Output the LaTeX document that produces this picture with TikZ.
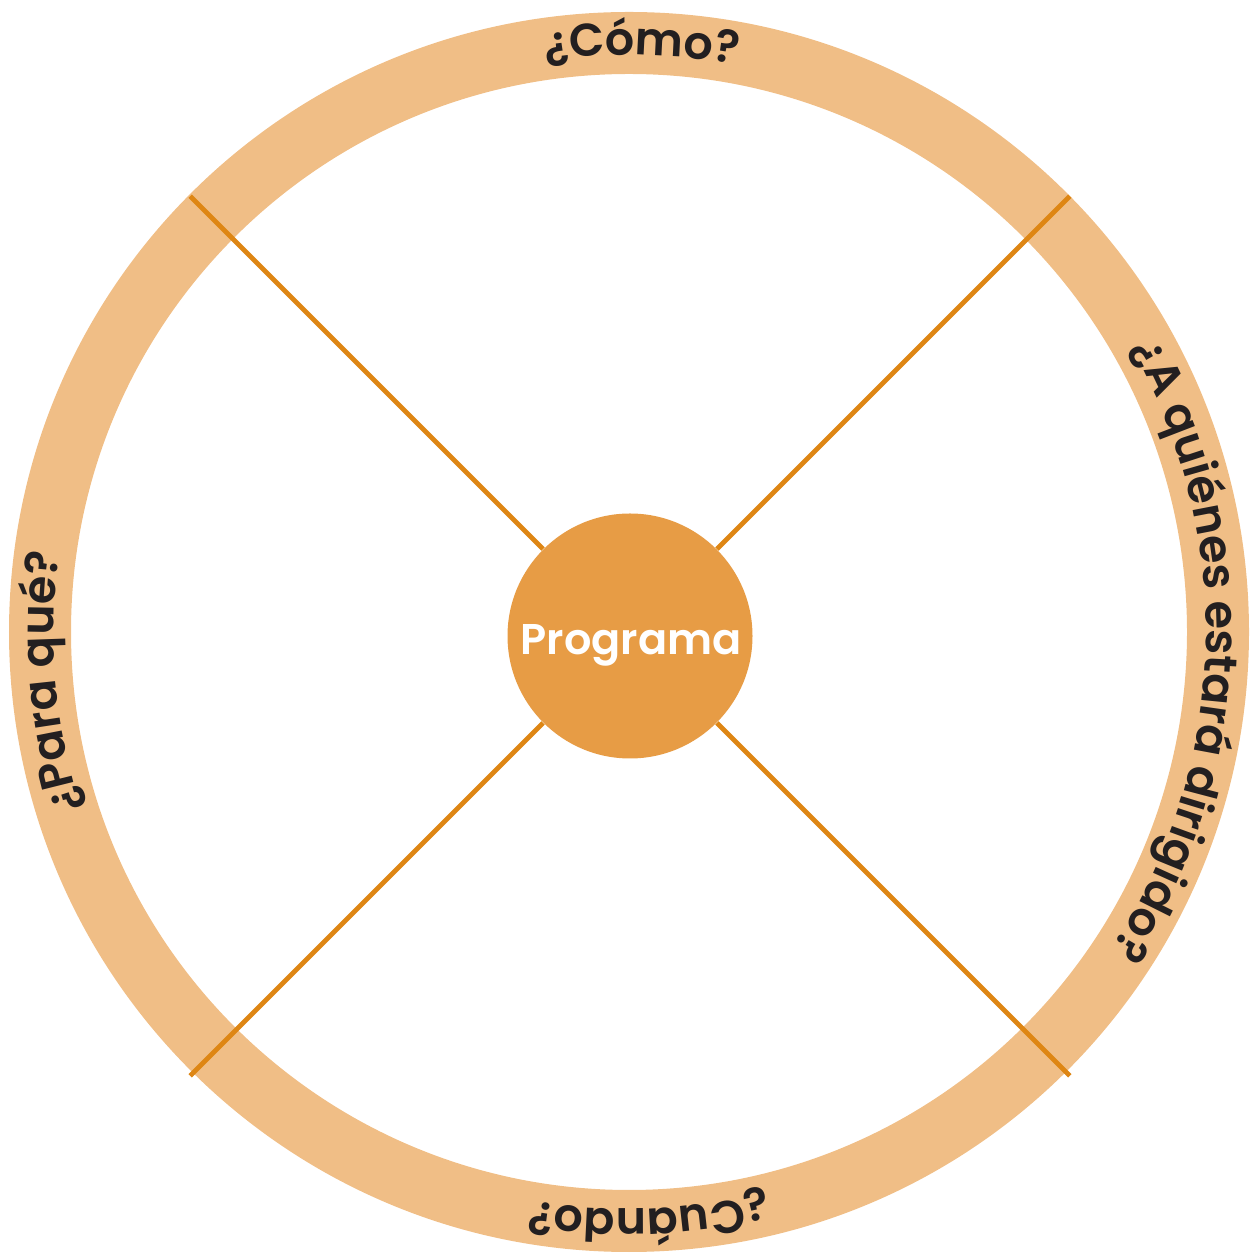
\documentclass[tikz,border=0pt]{standalone}
\usepackage{fontspec}
\setmainfont{Poppins}
\newfontfamily\ringfont{Poppins SemiBold}
\newfontfamily\progfont{Poppins SemiBold}
\usetikzlibrary{decorations.text,calc}
\definecolor{ringc}{HTML}{F0BE86}
\definecolor{spokec}{HTML}{DE8614}
\definecolor{hubc}{HTML}{E79C45}
\definecolor{txtc}{HTML}{231F20}
\tikzset{
  ring/.style={draw=ringc, line width=31pt},
  spoke/.style={draw=spokec, line width=2.4pt},
  hub/.style={circle, fill=hubc, minimum size=245pt/2, inner sep=0pt},
  hubtext/.style={text=white, font=\progfont\fontsize{21.5}{21.5}\selectfont},
  ringlabel/.style={decorate, decoration={text along path, text align=center,
    text={|\ringfont\fontsize{23}{23}\selectfont\color{txtc}|#1}}}
}
\begin{document}
\begin{tikzpicture}[x=0.5pt,y=0.5pt]
\useasboundingbox (0,0) rectangle (1253,1253);
\coordinate (R) at (629,621);
\draw[ring] (R) circle (589);
\node[hub] (prog) at (630,617) {};
\node[hubtext, anchor=base] (progtxt) at (631,598) {Programa};
\coordinate (ne) at ($(prog.center)+(45:622)$);
\coordinate (nw) at ($(prog.center)+(135:622)$);
\coordinate (sw) at ($(prog.center)+(225:622)$);
\coordinate (se) at ($(prog.center)+(315:622)$);
\draw[spoke] (prog) -- (ne);
\draw[spoke] (prog) -- (nw);
\draw[spoke] (prog) -- (sw);
\draw[spoke] (prog) -- (se);
\path[ringlabel={¿Cómo?}] (R) ++(128.8:577) arc[start angle=128.8, end angle=48.8, radius=577];
\path[ringlabel={¿A quiénes estará dirigido?}] (R) ++(50:577) arc[start angle=50, end angle=-54, radius=577];
\path[ringlabel={¿Cuándo?}] (R) ++(312:577) arc[start angle=312, end angle=232, radius=577];
\path[ringlabel={¿Para qué?}] (R) ++(225:575) arc[start angle=225, end angle=145, radius=575];
\end{tikzpicture}
\end{document}
